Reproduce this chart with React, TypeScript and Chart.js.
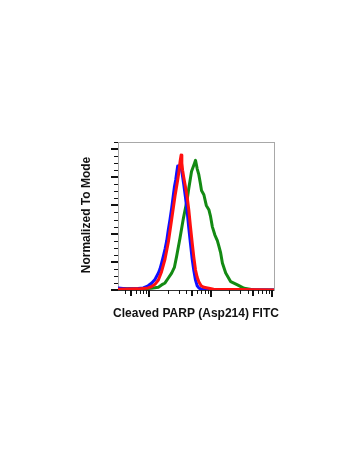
import React, { useEffect, useRef } from "react";
import { Chart, registerables } from "chart.js";

Chart.register(...registerables);

// FITC intensity (x) and normalized-to-mode (%) values
const blueX = [31, 45, 66, 80, 96, 110, 124, 141, 150, 159, 170, 181, 193, 205, 218, 232, 245, 257, 270, 280, 291, 299, 310, 318, 330, 343, 365, 389, 415, 441, 470, 501, 532, 568, 605, 643, 685, 777, 1000, 2000, 10790];
const blueY = [1.5, 0.8, 1.0, 1.5, 3.0, 5, 7.5, 12, 15, 19, 24, 29, 35, 43, 50, 58, 66, 73, 78, 83, 88, 86, 88, 89, 87, 83, 75, 66, 56, 44, 33, 22, 14, 7, 3, 1.5, 0.8, 0.5, 0.2, 0.1, 0];

const redX = [31, 66, 96, 108, 124, 141, 159, 181, 205, 232, 264, 291, 305, 318, 331, 340, 350, 365, 390, 415, 441, 470, 501, 532, 568, 605, 643, 700, 777, 1120, 3000, 10790];
const redY = [0.5, 0.8, 1.5, 2.3, 4, 7.1, 13, 22, 34, 50, 67, 78, 84, 91, 95.7, 90, 85, 80, 73, 66, 57, 45, 33.5, 23.5, 14.2, 9, 5.9, 3, 1.9, 0.5, 0.3, 0];

const greenX = [31, 66, 108, 141, 159, 181, 205, 232, 257, 280, 318, 361, 415, 441, 489, 547, 568, 605, 643, 685, 711, 777, 851, 937, 1000, 1066, 1175, 1288, 1368, 1459, 1556, 1762, 2128, 2742, 3516, 5129, 10790];
const greenY = [1.0, 0.7, 1.2, 2, 3.6, 5, 8.5, 12, 16, 24, 37, 51, 64, 72, 84, 90, 92, 86, 81.8, 75, 70.6, 67.6, 60, 57, 52, 45, 39, 35, 31, 26.3, 19.2, 12.1, 5.9, 3.6, 1.2, 0, 0];

// Axis ticks
const yMajorTicks = [0, 20, 40, 60, 80, 100];
const yMinorTicks = [5, 10, 15, 25, 30, 35, 45, 50, 55, 65, 70, 75, 85, 90, 95, 105];
const xMajorTicks = [100, 1000, 10000];
const xMidTicks = [50, 500, 5000];
const xMinorTicks = [40, 60, 70, 80, 90, 200, 300, 400, 600, 700, 800, 900, 2000, 3000, 4000, 6000, 7000, 8000, 9000];

const xTitle = "Cleaved PARP (Asp214) FITC";
const yTitle = "Normalized To Mode";

const toPoints = (xs: number[], ys: number[]) => xs.map((x, i) => ({ x, y: ys[i] }));

const axesPlugin = {
  id: "flowAxes",
  beforeDatasetsDraw(chart: any) {
    const { ctx, chartArea } = chart;
    const { left, right, top, bottom } = chartArea;
    const xs = chart.scales.x;
    const ys = chart.scales.y;
    ctx.save();
    ctx.strokeStyle = "#a8a8a8";
    ctx.lineWidth = 1;
    ctx.strokeRect(Math.round(left) + 0.5, Math.round(top) + 0.5, Math.round(right - left), Math.round(bottom - top));
    ctx.strokeStyle = "#333";
    ctx.beginPath();
    ctx.moveTo(left, Math.round(bottom) + 0.5);
    ctx.lineTo(right, Math.round(bottom) + 0.5);
    ctx.stroke();
    ctx.strokeStyle = "#111";
    yMajorTicks.forEach((v) => {
      const p = Math.round(ys.getPixelForValue(v));
      ctx.lineWidth = 2;
      ctx.beginPath();
      ctx.moveTo(left - 7, p);
      ctx.lineTo(left, p);
      ctx.stroke();
    });
    yMinorTicks.forEach((v) => {
      const p = Math.round(ys.getPixelForValue(v)) + 0.5;
      ctx.lineWidth = 1;
      ctx.beginPath();
      ctx.moveTo(left - 4, p);
      ctx.lineTo(left, p);
      ctx.stroke();
    });
    const drawX = (vals: number[], len: number, w: number) => {
      vals.forEach((v) => {
        const p = Math.round(xs.getPixelForValue(v)) + (w % 2 ? 0.5 : 0);
        ctx.lineWidth = w;
        ctx.beginPath();
        ctx.moveTo(p, bottom);
        ctx.lineTo(p, bottom + len);
        ctx.stroke();
      });
    };
    drawX(xMinorTicks, 4, 1);
    drawX(xMidTicks, 6, 2);
    drawX(xMajorTicks, 7, 2);
    ctx.restore();
  },
  afterDraw(chart: any) {
    const { ctx } = chart;
    ctx.save();
    ctx.fillStyle = "#111";
    ctx.font = "bold 12px 'Liberation Sans', Arial, sans-serif";
    ctx.textAlign = "center";
    ctx.textBaseline = "middle";
    ctx.fillText(xTitle, 196, 314);
    ctx.translate(87, 215);
    ctx.rotate(-Math.PI / 2);
    ctx.fillText(yTitle, 0, 0);
    ctx.restore();
  },
};

export default function App() {
  const ref = useRef<HTMLCanvasElement | null>(null);
  useEffect(() => {
    if (!ref.current) return;
    const line = (xs: number[], ys: number[], color: string, order: number) => ({
      data: toPoints(xs, ys),
      borderColor: color,
      borderWidth: 3,
      borderJoinStyle: "round" as const,
      borderCapStyle: "round" as const,
      pointRadius: 0,
      tension: 0,
      order,
    });
    const chart = new Chart(ref.current, {
      type: "line",
      data: {
        // lower order is drawn on top: red over blue over green
        datasets: [
          line(redX, redY, "#ff1010", 1),
          line(blueX, blueY, "#1010ff", 2),
          line(greenX, greenY, "#138a13", 3),
        ],
      },
      options: {
        responsive: false,
        animation: false,
        layout: { padding: { left: 118, top: 142, right: 76, bottom: 177 } },
        plugins: { legend: { display: false }, tooltip: { enabled: false } },
        scales: {
          x: { type: "logarithmic", min: 31, max: 10790, display: false },
          y: { type: "linear", min: 0, max: 105, display: false },
        },
      },
      plugins: [axesPlugin],
    });
    return () => chart.destroy();
  }, []);
  return (
    <div style={{ position: "fixed", left: 0, top: 0, width: 350, height: 467, background: "#fff" }}>
      <canvas ref={ref} width={350} height={467} />
    </div>
  );
}
